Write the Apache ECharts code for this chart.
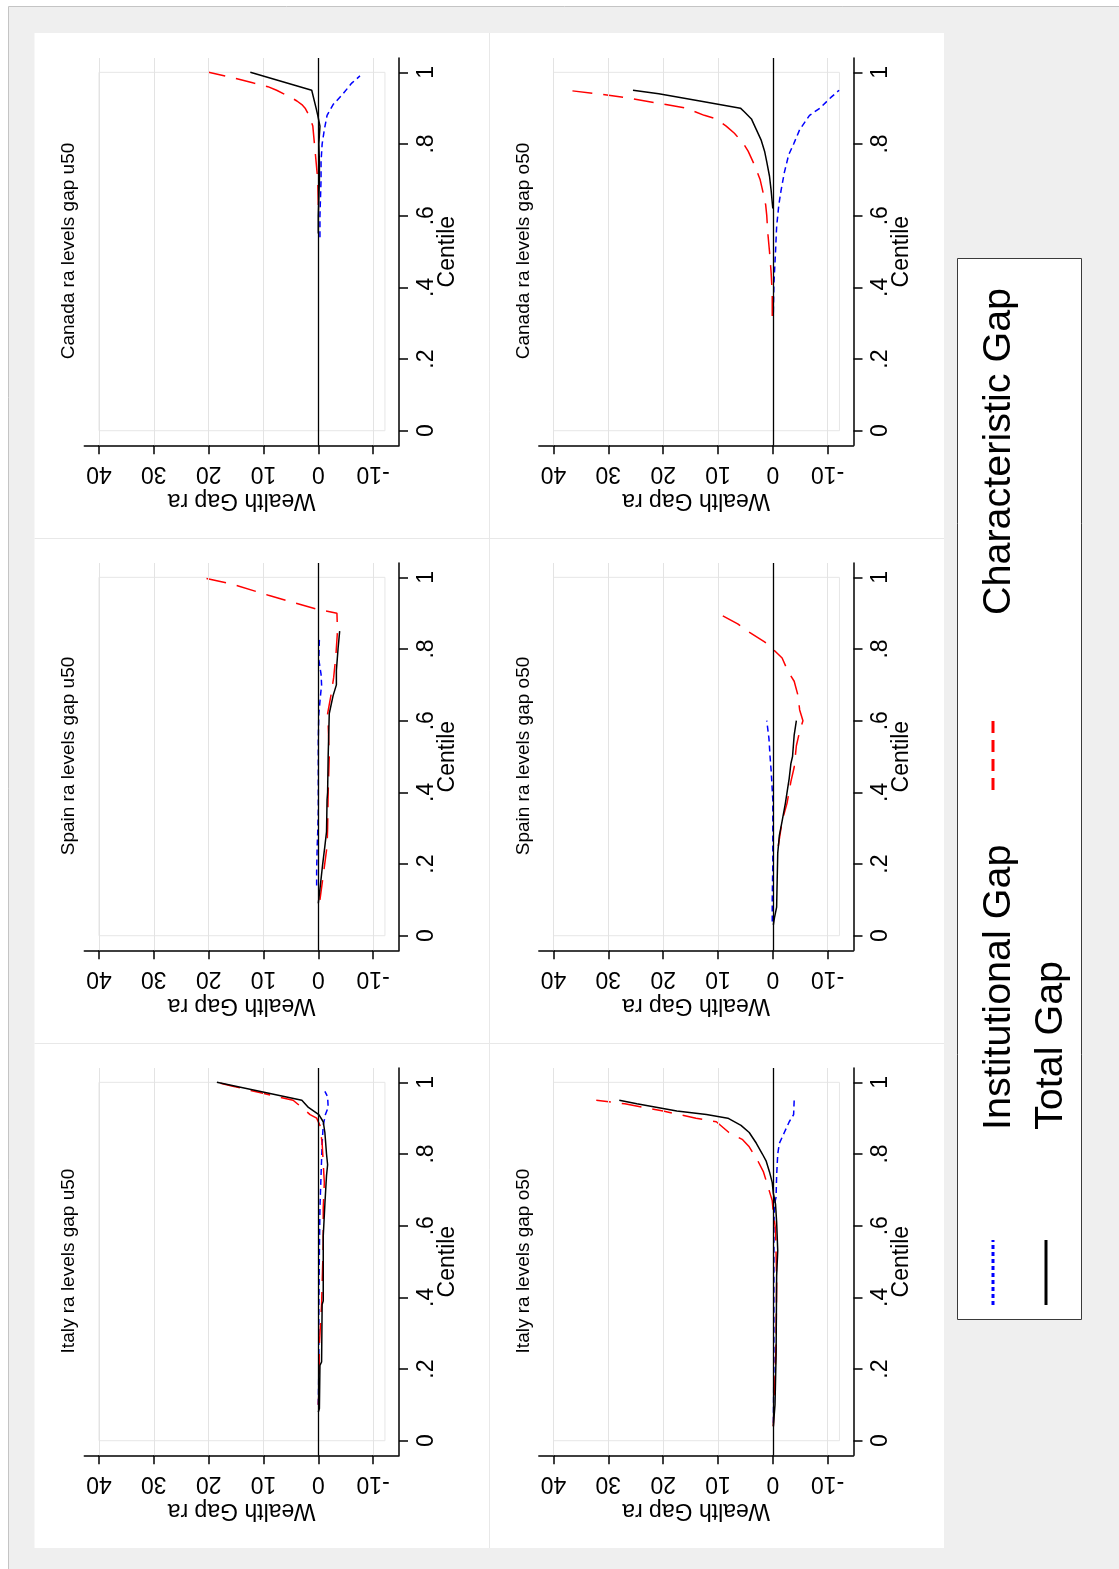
<!DOCTYPE html>
<html>
<head>
<meta charset="utf-8">
<script src="https://cdn.jsdelivr.net/npm/echarts@6/dist/echarts.min.js"></script>
<style>
html,body{margin:0;padding:0;background:#ffffff;}
#chart{width:1119px;height:1569px;}
</style>
</head>
<body>
<div id="chart"></div>
<script>
// ---------------- DATA ----------------
// Tick values / labels
const gapTicks = [-10, 0, 10, 20, 30, 40];
const gapGridValues = [-10, 10, 20, 30, 40];
const centileTicks = [0, 0.2, 0.4, 0.6, 0.8, 1];
const centileTickLabels = ['0', '.2', '.4', '.6', '.8', '1'];
const seriesNames = ['Institutional Gap', 'Characteristic Gap', 'Total Gap'];
const panelTitles = ['Canada ra levels gap u50', 'Canada ra levels gap o50',
                     'Spain ra levels gap u50', 'Spain ra levels gap o50',
                     'Italy ra levels gap u50', 'Italy ra levels gap o50'];

// Canada u50
const canU50InstC = [0.54, 0.6, 0.65, 0.7, 0.75, 0.8, 0.84, 0.88, 0.91, 0.94, 0.97, 0.99];
const canU50InstV = [-0.3, -0.3, -0.4, -0.5, -0.5, -0.7, -1.1, -1.6, -2.7, -4.5, -6.1, -7.6];
const canU50CharC = [0.63, 0.7, 0.75, 0.8, 0.85, 0.88, 0.9, 0.91, 0.92, 0.93, 0.94, 0.95, 0.96, 0.97, 0.98, 0.99, 1.0];
const canU50CharV = [0.0, 0.1, 0.4, 0.7, 1.0, 1.7, 2.4, 3.0, 3.9, 5.0, 6.3, 7.6, 9.2, 11.8, 14.3, 17.0, 20.0];
const canU50TotC  = [0.55, 0.6, 0.65, 0.7, 0.75, 0.8, 0.85, 0.88, 0.9, 0.95, 1.0];
const canU50TotV  = [0.0, 0.0, -0.1, -0.2, -0.2, -0.1, -0.3, 0.1, 0.4, 1.2, 12.4];

// Canada o50
const canO50InstC = [0.33, 0.41, 0.5, 0.57, 0.63, 0.67, 0.72, 0.77, 0.8, 0.84, 0.88, 0.9, 0.93, 0.95];
const canO50InstV = [-0.1, -0.2, -0.5, -0.7, -1.1, -1.5, -2.1, -2.9, -3.8, -4.9, -6.7, -8.6, -10.6, -12.1];
const canO50CharC = [0.32, 0.38, 0.44, 0.5, 0.55, 0.6, 0.63, 0.66, 0.7, 0.74, 0.78, 0.8, 0.83, 0.85, 0.87, 0.88, 0.9, 0.91, 0.93, 0.94, 0.95];
const canO50CharV = [0.1, 0.1, 0.3, 0.6, 0.9, 1.1, 1.3, 1.7, 2.3, 3.3, 4.5, 5.3, 7.0, 8.5, 10.3, 12.5, 15.8, 19.5, 27.0, 32.0, 37.5];
const canO50TotC  = [0.62, 0.67, 0.71, 0.75, 0.78, 0.81, 0.84, 0.87, 0.89, 0.9, 0.92, 0.94, 0.95];
const canO50TotV  = [0.0, 0.3, 0.6, 1.1, 1.5, 2.1, 3.0, 3.9, 5.2, 5.9, 13.3, 20.8, 25.5];

// Spain u50
const spaU50InstC = [0.14, 0.18, 0.25, 0.29, 0.35, 0.45, 0.55, 0.62, 0.67, 0.7, 0.73, 0.77, 0.83];
const spaU50InstV = [0.3, 0.3, 0.2, 0.1, 0.0, 0.0, 0.0, -0.1, -0.4, -0.6, -0.5, -0.1, -0.2];
const spaU50CharC = [0.1, 0.18, 0.25, 0.3, 0.4, 0.5, 0.59, 0.62, 0.67, 0.72, 0.78, 0.85, 0.9, 0.91, 0.95, 0.98, 1.0];
const spaU50CharV = [-0.3, -1.0, -1.6, -1.7, -1.8, -2.0, -1.8, -1.7, -2.3, -2.8, -3.2, -3.5, -3.4, 0.0, 9.1, 15.5, 21.3];
const spaU50TotC  = [0.09, 0.13, 0.2, 0.25, 0.29, 0.38, 0.4, 0.5, 0.62, 0.67, 0.7, 0.74, 0.8, 0.85];
const spaU50TotV  = [0.0, -0.3, -0.8, -1.2, -1.5, -1.6, -1.7, -1.8, -2.0, -2.7, -3.3, -3.3, -3.6, -3.9];

// Spain o50
const spaO50InstC = [0.04, 0.1, 0.2, 0.3, 0.38, 0.46, 0.5, 0.55, 0.6];
const spaO50InstV = [0.1, 0.1, 0.0, 0.0, 0.0, 0.3, 0.5, 0.7, 1.1];
const spaO50CharC = [0.25, 0.32, 0.37, 0.43, 0.47, 0.53, 0.57, 0.6, 0.63, 0.67, 0.71, 0.74, 0.775, 0.8, 0.82, 0.85, 0.87, 0.9];
const spaO50CharV = [-1.0, -1.7, -2.6, -3.3, -3.9, -4.3, -4.9, -5.5, -4.9, -4.6, -3.9, -2.7, -1.7, 0.0, 1.5, 4.6, 6.4, 10.0];
const spaO50TotC  = [0.03, 0.05, 0.08, 0.23, 0.28, 0.32, 0.37, 0.4, 0.44, 0.48, 0.5, 0.56, 0.6];
const spaO50TotV  = [-0.1, -0.3, -0.7, -0.9, -1.2, -1.7, -2.3, -2.6, -3.0, -3.3, -3.6, -3.9, -4.3];

// Italy u50
const itaU50InstC = [0.1, 0.2, 0.35, 0.53, 0.65, 0.74, 0.83, 0.88, 0.91, 0.93, 0.96, 0.975];
const itaU50InstV = [0.0, -0.1, -0.1, -0.2, -0.3, -0.5, -0.7, -0.9, -1.3, -1.8, -1.7, -1.2];
const itaU50CharC = [0.1, 0.13, 0.27, 0.38, 0.55, 0.65, 0.72, 0.83, 0.88, 0.9, 0.91, 0.93, 0.95, 0.97, 0.99, 1.0];
const itaU50CharV = [0.0, -0.1, -0.2, -0.6, -0.9, -0.9, -1.1, -0.7, -0.3, 0.3, 1.5, 3.0, 4.6, 10.3, 15.8, 18.5];
const itaU50TotC  = [0.08, 0.09, 0.21, 0.22, 0.38, 0.39, 0.57, 0.66, 0.74, 0.77, 0.8, 0.86, 0.89, 0.91, 0.93, 0.95, 1.0];
const itaU50TotV  = [0.0, -0.2, -0.3, -0.6, -0.7, -0.9, -0.9, -1.2, -1.5, -1.7, -1.5, -1.2, -0.9, -0.1, 1.8, 3.0, 18.5];

// Italy o50
const itaO50InstC = [0.05, 0.2, 0.4, 0.6, 0.66, 0.68, 0.74, 0.8, 0.83, 0.86, 0.89, 0.91, 0.95];
const itaO50InstV = [-0.1, -0.2, -0.2, -0.2, -0.3, -0.6, -0.7, -0.9, -1.2, -2.1, -3.0, -3.8, -3.9];
const itaO50CharC = [0.04, 0.13, 0.27, 0.45, 0.59, 0.635, 0.67, 0.71, 0.75, 0.78, 0.82, 0.84, 0.86, 0.89, 0.9, 0.92, 0.94, 0.95];
const itaO50CharV = [-0.1, -0.3, -0.6, -0.7, -0.5, -0.1, 0.1, 0.9, 1.7, 2.7, 4.3, 5.5, 8.0, 10.3, 14.0, 20.0, 27.0, 32.2];
const itaO50TotC  = [0.04, 0.1, 0.24, 0.46, 0.53, 0.61, 0.66, 0.69, 0.72, 0.75, 0.78, 0.8, 0.83, 0.86, 0.88, 0.9, 0.91, 0.92, 0.94, 0.95];
const itaO50TotV  = [-0.1, -0.4, -0.6, -0.7, -0.9, -0.7, -0.5, -0.1, 0.1, 0.6, 1.2, 1.9, 3.0, 4.3, 5.8, 8.2, 12.1, 17.5, 24.8, 28.0];

// ---------------- LAYOUT / STYLE ----------------
const FONT = '"Liberation Sans", Arial, Helvetica, sans-serif';
const panelData = [
  [[canU50InstC, canU50InstV], [canU50CharC, canU50CharV], [canU50TotC, canU50TotV]],
  [[canO50InstC, canO50InstV], [canO50CharC, canO50CharV], [canO50TotC, canO50TotV]],
  [[spaU50InstC, spaU50InstV], [spaU50CharC, spaU50CharV], [spaU50TotC, spaU50TotV]],
  [[spaO50InstC, spaO50InstV], [spaO50CharC, spaO50CharV], [spaO50TotC, spaO50TotV]],
  [[itaU50InstC, itaU50InstV], [itaU50CharC, itaU50CharV], [itaU50TotC, itaU50TotV]],
  [[itaO50InstC, itaO50InstV], [itaO50CharC, itaO50CharV], [itaO50TotC, itaO50TotV]]
];
const origins = [[35, 33], [489.5, 33], [35, 538], [489.5, 538], [35, 1043], [489.5, 1043]];
const lineStyles = [
  {color: '#0000ff', width: 1.5, type: [6, 4]},
  {color: '#ff0000', width: 1.5, type: [20, 11]},
  {color: '#000000', width: 1.5, type: 'solid'}
];

function centileLabel(v) {
  for (let k = 0; k < centileTicks.length; k++) {
    if (Math.abs(centileTicks[k] - v) < 1e-9) return centileTickLabels[k];
  }
  return '';
}

const grids = [], xAxes = [], yAxes = [], series = [], graphics = [];
const axisText = {fontSize: 23, color: '#000', fontFamily: FONT};

origins.forEach((o, i) => {
  const ox = o[0], oy = o[1];
  grids.push({left: ox + 49.3, top: oy + 25, width: 314.7, height: 387.3,
              containLabel: false, outerBoundsMode: 'none'});
  xAxes.push({
    type: 'value', gridIndex: i, inverse: true, min: -14.72, max: 42.68, position: 'bottom',
    axisLine: {show: true, onZero: false, lineStyle: {color: '#000', width: 1.5}},
    axisTick: {show: true, customValues: gapTicks, length: 9, lineStyle: {color: '#000', width: 1.5}},
    axisLabel: Object.assign({show: true, customValues: gapTicks, rotate: 180, margin: 17}, axisText),
    splitLine: {show: false},
    name: 'Wealth Gap ra', nameLocation: 'middle', nameRotate: 180, nameGap: 44,
    nameMoveOverlap: false,
    nameTextStyle: Object.assign({}, axisText)
  });
  yAxes.push({
    type: 'value', gridIndex: i, min: -0.0407, max: 1.04, position: 'right',
    axisLine: {show: true, onZero: false, lineStyle: {color: '#000', width: 1.5}},
    axisTick: {show: true, customValues: centileTicks, length: 9, lineStyle: {color: '#000', width: 1.5}},
    axisLabel: Object.assign({show: true, customValues: centileTicks, rotate: 90, margin: 16,
                              formatter: centileLabel}, axisText),
    splitLine: {show: false},
    name: 'Centile', nameLocation: 'middle', nameRotate: 90, nameGap: 37,
    nameMoveOverlap: false,
    nameTextStyle: Object.assign({}, axisText)
  });
  // plot-region outline, grid lines and zero line
  series.push({
    type: 'line', xAxisIndex: i, yAxisIndex: i, data: [], silent: true, z: 1,
    markArea: {silent: true, itemStyle: {color: 'rgba(0,0,0,0)', borderColor: '#e6e6e6', borderWidth: 1},
               data: [[{xAxis: 40, yAxis: 0}, {xAxis: -12.16, yAxis: 1}]]},
    markLine: {silent: true, symbol: ['none', 'none'], label: {show: false}, animation: false,
               emphasis: {disabled: true},
               data: gapGridValues.map(v => ({xAxis: v, lineStyle: {color: '#e3e3e3', width: 1, type: 'solid'}}))
                 .concat([{xAxis: 0, lineStyle: {color: '#000', width: 1.3, type: 'solid'}}])}
  });
  panelData[i].forEach((pair, s) => {
    const cs = pair[0], vs = pair[1];
    series.push({
      type: 'line', name: seriesNames[s], xAxisIndex: i, yAxisIndex: i,
      data: cs.map((c, k) => [vs[k], c]),
      showSymbol: false, symbol: 'none', smooth: false, z: 3 + s,
      lineStyle: lineStyles[s], emphasis: {disabled: true}
    });
  });
  graphics.push({type: 'text', x: ox + 34, y: oy + 218, rotation: Math.PI / 2, z: 50, silent: true,
    style: {text: panelTitles[i], fontSize: 19, fontFamily: FONT, fill: '#000', align: 'center', verticalAlign: 'middle'}});
});

// background / frame
graphics.unshift(
  {type: 'rect', shape: {x: 8.5, y: 6.5, width: 1200, height: 1600}, z: -30, silent: true,
   style: {fill: '#efefef', stroke: '#c4c4c4', lineWidth: 1}},
  {type: 'rect', shape: {x: 34.5, y: 33, width: 909.5, height: 1515}, z: -20, silent: true,
   style: {fill: '#ffffff'}},
  {type: 'line', shape: {x1: 489.5, y1: 33, x2: 489.5, y2: 1548}, z: -10, silent: true,
   style: {stroke: '#e8e8e8', lineWidth: 1}},
  {type: 'line', shape: {x1: 34.5, y1: 538.5, x2: 944, y2: 538.5}, z: -10, silent: true,
   style: {stroke: '#e8e8e8', lineWidth: 1}},
  {type: 'line', shape: {x1: 34.5, y1: 1043.5, x2: 944, y2: 1043.5}, z: -10, silent: true,
   style: {stroke: '#e8e8e8', lineWidth: 1}}
);

// legend (rotated, drawn as graphic)
const legendText = {fontSize: 39.5, fontFamily: FONT, fill: '#000', align: 'left', verticalAlign: 'middle'};
graphics.push(
  {type: 'rect', shape: {x: 957.5, y: 258.5, width: 124, height: 1061}, z: 40, silent: true,
   style: {fill: '#ffffff', stroke: '#3a3a3a', lineWidth: 1}},
  {type: 'line', shape: {x1: 993, y1: 1305, x2: 993, y2: 1240}, z: 41, silent: true,
   style: {stroke: '#0000ff', lineWidth: 3, lineDash: [4, 3]}},
  {type: 'text', x: 999, y: 1130, rotation: Math.PI / 2, z: 41, silent: true,
   style: Object.assign({text: seriesNames[0]}, legendText)},
  {type: 'line', shape: {x1: 993, y1: 790, x2: 993, y2: 718}, z: 41, silent: true,
   style: {stroke: '#ff0000', lineWidth: 3, lineDash: [12, 7]}},
  {type: 'text', x: 999, y: 615, rotation: Math.PI / 2, z: 41, silent: true,
   style: Object.assign({text: seriesNames[1]}, legendText)},
  {type: 'line', shape: {x1: 1046, y1: 1305, x2: 1046, y2: 1240}, z: 41, silent: true,
   style: {stroke: '#000000', lineWidth: 3}},
  {type: 'text', x: 1051, y: 1130, rotation: Math.PI / 2, z: 41, silent: true,
   style: Object.assign({text: seriesNames[2]}, legendText)}
);

const chart = echarts.init(document.getElementById('chart'), null, {renderer: 'canvas', width: 1119, height: 1569});
chart.setOption({
  backgroundColor: '#ffffff',
  animation: false,
  textStyle: {fontFamily: FONT},
  grid: grids,
  xAxis: xAxes,
  yAxis: yAxes,
  series: series,
  graphic: {elements: graphics}
});
</script>
</body>
</html>
